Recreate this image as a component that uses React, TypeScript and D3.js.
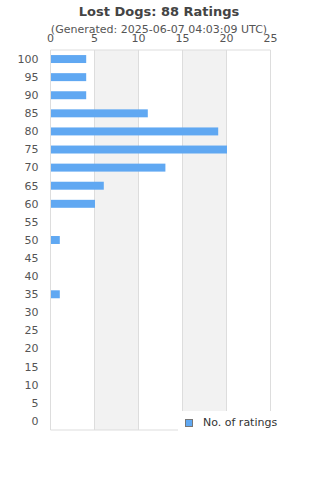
import React from "react";
import * as d3 from "d3";

const scores = ["100", "95", "90", "85", "80", "75", "70", "65", "60", "55", "50", "45", "40", "35", "30", "25", "20", "15", "10", "5", "0"];
const counts = [4, 4, 4, 11, 19, 20, 13, 6, 5, 0, 1, 0, 0, 1, 0, 0, 0, 0, 0, 0, 0];
const xTicks = [0, 5, 10, 15, 20, 25];

const title = "Lost Dogs: 88 Ratings";
const subtitle = "(Generated: 2025-06-07 04:03:09 UTC)";
const legendLabel = "No. of ratings";

const W = 320;
const H = 480;
const margin = { top: 50, right: 49.5, bottom: 50, left: 50.5 };
const font = "DejaVu Sans, sans-serif";
const barColor = "#60a8f2";

export default function App() {
  const innerW = W - margin.left - margin.right;
  const innerH = H - margin.top - margin.bottom;

  const x = d3.scaleLinear().domain([0, 25]).range([0, innerW]);
  const y = d3.scaleBand().domain(scores).range([0, innerH]).paddingInner(0.56).paddingOuter(0.28);

  const bands = d3.pairs(xTicks).filter((_, i) => i % 2 === 1);

  return (
    <svg width={W} height={H} style={{ position: "absolute", left: 0, top: 0 }}>
      <rect width={W} height={H} fill="#fff" />
      <text x={159} y={16} textAnchor="middle" fontFamily={font} fontSize={13} fontWeight="bold" fill="#444">
        {title}
      </text>
      <text x={159} y={33} textAnchor="middle" fontFamily={font} fontSize={11} fill="#555">
        {subtitle}
      </text>
      <g transform={`translate(${margin.left},${margin.top})`}>
        {bands.map(([a, b]) => (
          <rect key={a} x={x(a)} y={0} width={x(b) - x(a)} height={innerH} fill="#f2f2f2" />
        ))}
        {xTicks.map((t) => (
          <line key={t} x1={x(t)} x2={x(t)} y1={0} y2={innerH} stroke="#ddd" />
        ))}
        <line x1={0} x2={innerW} y1={0} y2={0} stroke="#ddd" />
        <line x1={0} x2={innerW} y1={innerH} y2={innerH} stroke="#ddd" />
        {xTicks.map((t) => (
          <text key={t} x={x(t)} y={-8} textAnchor="middle" fontFamily={font} fontSize={11} fill="#555">
            {t}
          </text>
        ))}
        {scores.map((s, i) => (
          <g key={s}>
            {counts[i] > 0 && (
              <rect x={x(0) + 0.5} y={y(s)} width={x(counts[i]) - x(0)} height={y.bandwidth()} fill={barColor} />
            )}
            <text
              x={-12}
              y={(y(s) as number) + y.bandwidth() / 2}
              dy="0.35em"
              textAnchor="end"
              fontFamily={font}
              fontSize={11}
              fill="#555"
            >
              {s}
            </text>
          </g>
        ))}
      </g>
      <rect x={178} y={411} width={142} height={30} fill="#fff" />
      <rect x={185.5} y={419.5} width={7} height={7} fill={barColor} stroke="#777" />
      <text x={203} y={426} fontFamily={font} fontSize={11} fill="#333">
        {legendLabel}
      </text>
    </svg>
  );
}
